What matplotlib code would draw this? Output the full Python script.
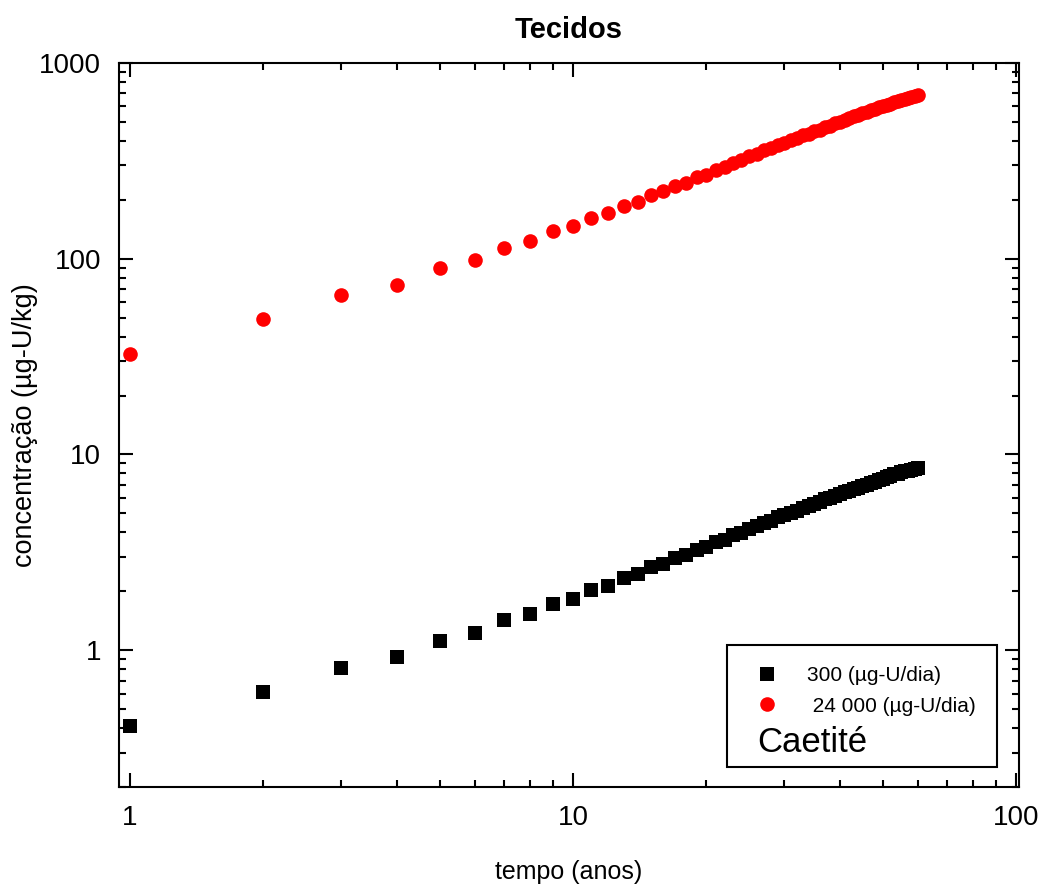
import matplotlib
matplotlib.use("Agg")
import matplotlib.pyplot as plt
from matplotlib.patches import Rectangle
from matplotlib.ticker import LogLocator, NullFormatter, FixedLocator, FixedFormatter

plt.rcParams['font.family'] = ['Liberation Sans', 'DejaVu Sans']

years = list(range(1, 61))

conc_24000 = [32.5, 49, 65, 73.5, 89.5, 98, 114, 122.5, 139, 147,
              162, 171, 187, 196, 212, 221, 236, 244, 261, 269,
              285, 294, 310, 319, 334, 343, 358, 367, 382, 390,
              404, 413, 427, 435, 449, 457, 471, 479, 492, 500,
              513, 521, 534, 542, 554, 562, 574, 582, 594, 601,
              613, 620, 632, 639, 648, 655, 665, 672, 681, 688]

conc_300 = [0.41, 0.61, 0.81, 0.92, 1.12, 1.22, 1.42, 1.53, 1.73, 1.83,
            2.03, 2.14, 2.34, 2.45, 2.65, 2.76, 2.95, 3.05, 3.26, 3.36,
            3.56, 3.67, 3.87, 3.99, 4.17, 4.29, 4.47, 4.59, 4.77, 4.88,
            5.05, 5.16, 5.34, 5.44, 5.61, 5.71, 5.89, 5.99, 6.15, 6.25,
            6.41, 6.51, 6.67, 6.77, 6.92, 7.02, 7.17, 7.27, 7.42, 7.51,
            7.66, 7.75, 7.90, 7.99, 8.10, 8.19, 8.28, 8.36, 8.44, 8.52]

label_300 = "300 (\u00b5g-U/dia)"
label_24000 = " 24 000 (\u00b5g-U/dia)"
site_label = "Caetit\u00e9"
title = "Tecidos"
xlabel = "tempo (anos)"
ylabel = "concentra\u00e7\u00e3o (\u00b5g-U/kg)"
xticks = [1, 10, 100]
xticklabels = ["1", "10", "100"]
yticks = [1, 10, 100, 1000]
yticklabels = ["1", "10", "100", "1000"]

fig = plt.figure(figsize=(10.48, 8.89), dpi=100)
ax = fig.add_axes([119/1048, 1 - 787/889, 900/1048, 724/889])

ax.plot(years, conc_300, linestyle='none', marker='s', markersize=10,
        color='black', markeredgewidth=0, label=label_300)
ax.plot(years, conc_24000, linestyle='none', marker='o', markersize=10.5,
        color='#ff0000', markeredgewidth=0, label=label_24000)

ax.set_xscale('log')
ax.set_yscale('log')
ax.set_xlim(0.945, 101.5)
ax.set_ylim(0.2, 1000)

ax.xaxis.set_major_locator(FixedLocator(xticks))
ax.xaxis.set_major_formatter(FixedFormatter(xticklabels))
ax.yaxis.set_major_locator(FixedLocator(yticks))
ax.yaxis.set_major_formatter(FixedFormatter(yticklabels))
ax.xaxis.set_minor_locator(LogLocator(base=10, subs=range(2, 10), numticks=20))
ax.yaxis.set_minor_locator(LogLocator(base=10, subs=range(2, 10), numticks=20))
ax.xaxis.set_minor_formatter(NullFormatter())
ax.yaxis.set_minor_formatter(NullFormatter())

ax.tick_params(which='both', direction='in', top=True, right=True, width=1.5)
ax.tick_params(which='major', length=10, labelsize=20)
ax.tick_params(axis='x', which='major', pad=13)
ax.tick_params(axis='y', which='major', pad=13)
ax.tick_params(which='minor', length=5)
for s in ax.spines.values():
    s.set_linewidth(1.5)

ax.set_title(title, fontsize=21, fontweight='bold', pad=18)
ax.set_xlabel(xlabel, fontsize=18, labelpad=21)
ax.set_ylabel(ylabel, fontsize=19.5, labelpad=1)

# legend box
ax.add_patch(Rectangle((0.6756, 0.0276), 0.300, 0.1684, transform=ax.transAxes,
                       fill=False, edgecolor='black', linewidth=1.5, zorder=5))
leg = ax.legend(loc='upper left', bbox_to_anchor=(0.6756, 0.180), frameon=False,
                fontsize=15, handlelength=2.9, handletextpad=0.5, borderpad=0.45,
                labelspacing=0.55, borderaxespad=0, numpoints=1)
ax.text(0.709, 0.048, site_label, transform=ax.transAxes, fontsize=25,
        va='baseline', ha='left')

fig.savefig('out.png', dpi=100)
